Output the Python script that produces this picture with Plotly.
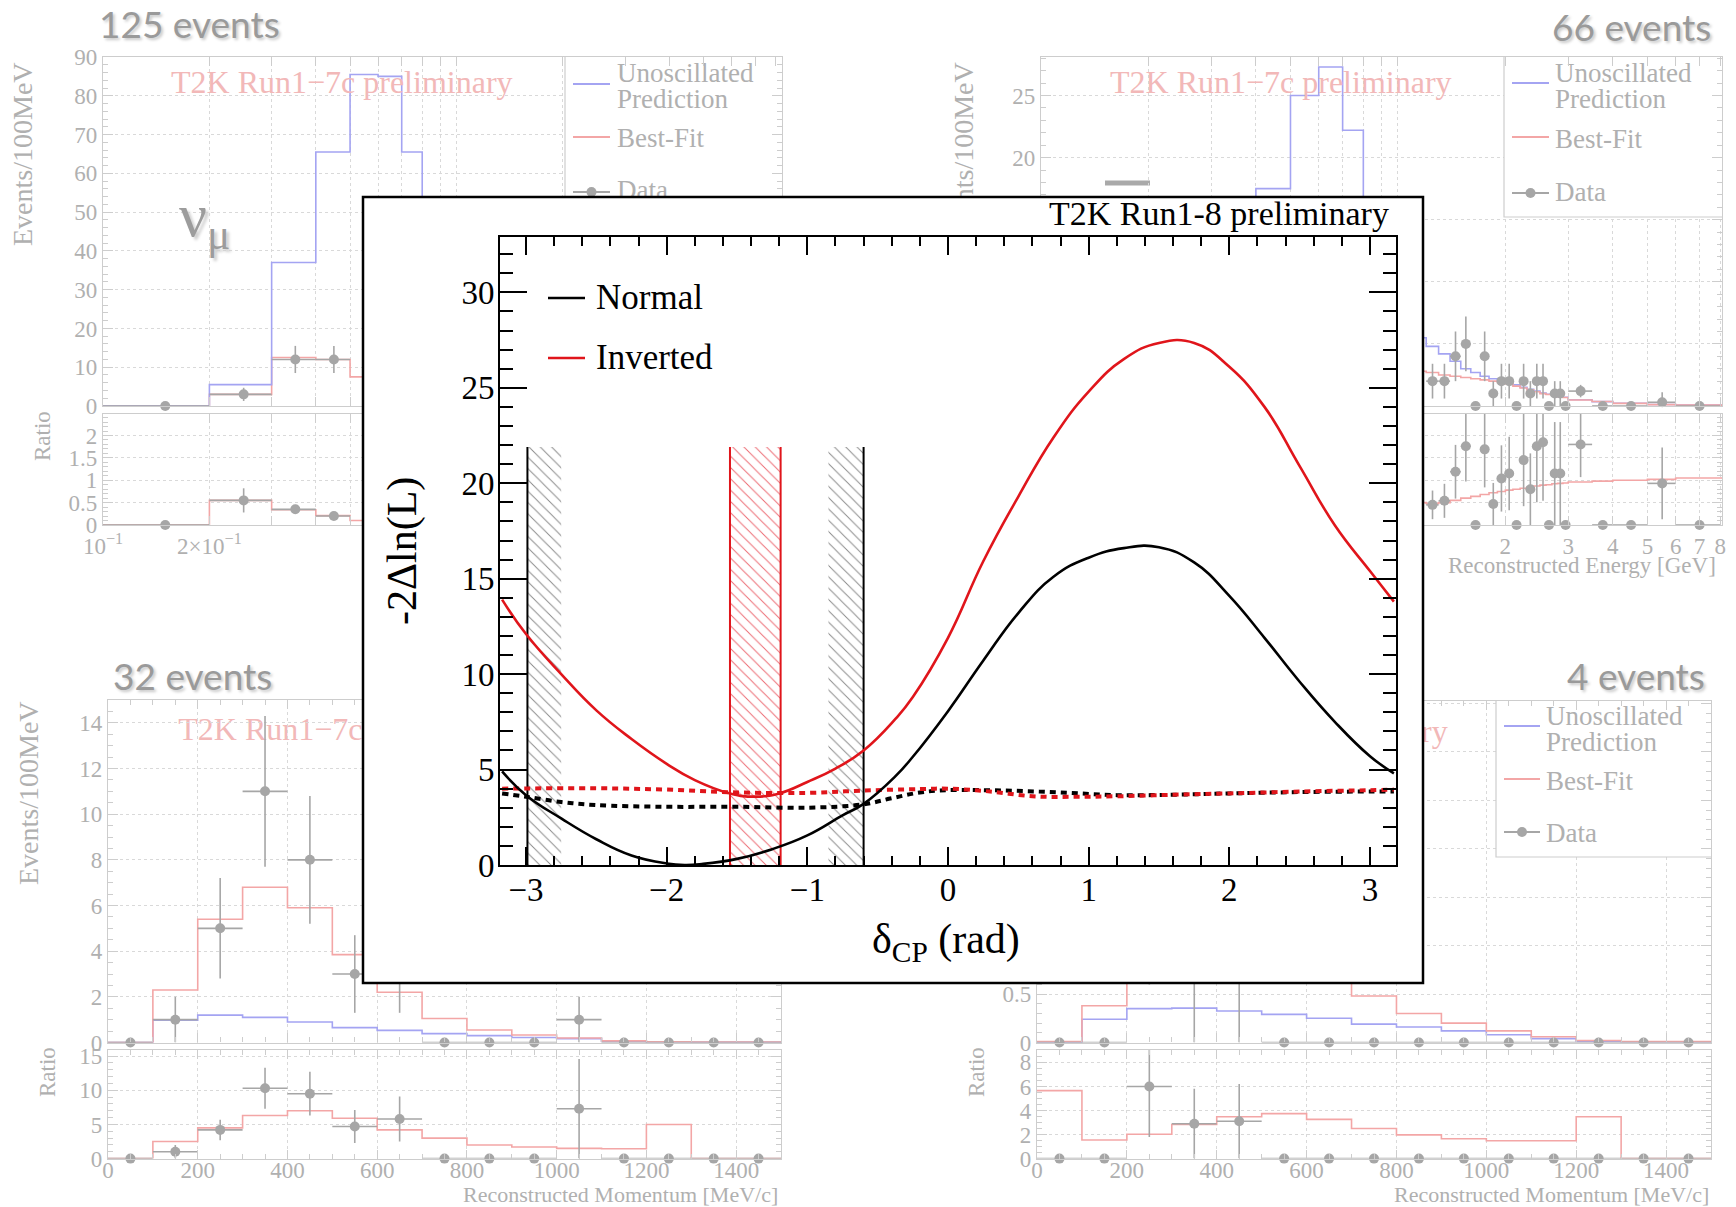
import plotly.graph_objects as go

W, H = 1736, 1207
SERIF = "Liberation Serif"
SANS = "Lato"

GRAY_TXT = "#b0b0b0"
FRAME = "#cdcdcd"
GRID = "#d9d9d9"
BLUE = "#a4a4f2"
PINK = "#f3a6a6"
PINK_TXT = "#f2b8b8"
DATA = "#a6a6a6"
EVT = "#9a9a9a"
RED = "#e0151b"

# ---------------- background panels: data ----------------
# top-left: nu_mu sample (125 events), reconstructed energy [GeV]
tl_edges_blue = [0.1, 0.2, 0.3, 0.4, 0.5, 0.6, 0.7, 0.8, 0.9]
tl_blue = [0, 5.5, 37, 65.5, 85.5, 85, 65.5, 45]
tl_edges_red = [0.1, 0.2, 0.3, 0.4, 0.5, 0.6]
tl_red = [0, 3, 12.5, 12, 7.5]
tl_x = [0.15, 0.25, 0.35, 0.45]
tl_xerr = [0.05, 0.05, 0.05, 0.05]
tl_data = [0, 3, 12, 12]
tl_err = [0, 1.7, 3.5, 3.5]
tl_ratio_red = [0, 0.55, 0.34, 0.21, 0.1]
tl_ratio_data = [0, 0.55, 0.35, 0.2]
tl_ratio_err = [0, 0.27, 0.1, 0.06]

# top-right: anti-nu_mu sample (66 events)
tr_edges = [0.1, 0.2, 0.3, 0.4, 0.5, 0.6, 0.7, 0.8, 0.9, 1.0, 1.1, 1.2, 1.3, 1.4, 1.5,
            1.6, 1.7, 1.8, 1.9, 2.0, 2.1, 2.2, 2.3, 2.4, 2.5, 2.6, 2.7, 2.8, 2.9, 3.0,
            3.5, 4.0, 5.0, 6.0, 8.3]
tr_blue = [0.5, 3.0, 9.0, 17.5, 25.0, 27.3, 22.2, 15.0, 10.0, 7.5,
           5.5, 4.8, 4.2, 3.6, 3.0, 2.7, 2.4, 2.2, 2.0, 1.9,
           1.7, 1.5, 1.35, 1.2, 1.05, 0.95, 0.85, 0.75, 0.7,
           0.5, 0.35, 0.22, 0.12, 0.08]
tr_edges_red = tr_edges[10:]
tr_red = [2.8, 2.7, 2.5, 2.4, 2.3, 2.2, 2.1, 2.0, 1.9, 1.8,
          1.6, 1.45, 1.3, 1.15, 1.0, 0.92, 0.83, 0.74, 0.68,
          0.48, 0.36, 0.21, 0.11, 0.07]
tr_ratio_red = [0.5, 0.48, 0.5, 0.55, 0.6, 0.64, 0.68, 0.72, 0.75, 0.78,
                0.8, 0.82, 0.85, 0.87, 0.89, 0.9, 0.92, 0.93, 0.94,
                0.96, 0.98, 1.0, 1.02, 1.05]
tr_x = [1.25, 1.35, 1.45, 1.55, 1.65, 1.75, 1.85, 1.95, 2.05, 2.15, 2.25, 2.35,
        2.45, 2.55, 2.65, 2.75, 2.85, 2.95, 3.25, 3.75, 4.5, 5.5, 7.0]
tr_xerr = [0.05, 0.05, 0.05, 0.05, 0.05, 0.05, 0.05, 0.05, 0.05, 0.05, 0.05, 0.05,
           0.05, 0.05, 0.05, 0.05, 0.05, 0.05, 0.25, 0.25, 0.5, 0.5, 1.0]
tr_data = [2, 2, 4, 5, 0, 4, 1, 2, 2, 0, 2, 1, 2, 2, 0, 1, 1, 0, 1.2, 0, 0, 0.3, 0]
tr_err = [1.4, 1.4, 2, 2.2, 0, 2, 1, 1.4, 1.4, 0, 1.4, 1, 1.4, 1.4, 0, 1, 1, 0, 0.5, 0, 0, 0.8, 0]
tr_ratio_data = [0.45, 0.54, 1.19, 1.76, 0, 1.69, 0.47, 1.04, 1.15, 0, 1.45, 0.8,
                 1.76, 1.85, 0, 1.15, 1.15, 0, 1.8, 0, 0, 0.93, 0]
tr_ratio_err = [0.32, 0.38, 0.6, 0.79, 0, 0.85, 0.47, 0.74, 0.82, 0, 1.03, 0.8,
                1.25, 1.31, 0, 1.15, 1.15, 0, 0.73, 0, 0, 0.8, 0]

# bottom-left: nu_e sample (32 events), reconstructed momentum [MeV/c]
mom_edges = [0, 100, 200, 300, 400, 500, 600, 700, 800, 900, 1000, 1100, 1200, 1300, 1400, 1500]
mom_x = [50, 150, 250, 350, 450, 550, 650, 750, 850, 950, 1050, 1150, 1250, 1350, 1450]
mom_xerr = [50, 50, 50, 50, 50, 50, 50, 50, 50, 50, 50, 50, 50, 50, 50]
bl_red = [0, 2.3, 5.4, 6.8, 5.9, 3.85, 2.2, 1.05, 0.55, 0.33, 0.2, 0.07, 0.03, 0.02, 0.02]
bl_blue = [0, 0.98, 1.2, 1.1, 0.9, 0.65, 0.53, 0.39, 0.3, 0.22, 0.17, 0.05, 0.02, 0.01, 0.01]
bl_data = [0, 1, 5, 11, 8, 3, 3, 0, 0, 0, 1, 0, 0, 0, 0]
bl_err = [0, 1, 2.2, 3.3, 2.8, 1.7, 1.7, 0, 0, 0, 1, 0, 0, 0, 0]
bl_ratio_red = [0, 2.5, 4.5, 6.3, 7.0, 5.9, 4.2, 3.0, 2.0, 1.7, 1.5, 1.45, 5.0, 0, 0]
bl_ratio_data = [0, 1.0, 4.2, 10.3, 9.5, 4.7, 5.8, 0, 0, 0, 7.3, 0, 0, 0, 0]
bl_ratio_err = [0, 1.0, 1.5, 3.0, 3.2, 2.4, 3.3, 0, 0, 0, 7.3, 0, 0, 0, 0]

# bottom-right: anti-nu_e sample (4 events)
br_red = [0.01, 0.38, 0.74, 1.03, 1.14, 1.1, 0.83, 0.48, 0.3, 0.2, 0.12, 0.06, 0.02, 0.01, 0.01]
br_blue = [0.0, 0.24, 0.35, 0.355, 0.325, 0.29, 0.25, 0.19, 0.16, 0.12, 0.08, 0.04, 0.01, 0.005, 0.005]
br_data = [0, 0, 2, 1, 1, 0, 0, 0, 0, 0, 0, 0, 0, 0, 0]
br_err = [0, 0, 1.4, 1, 1, 0, 0, 0, 0, 0, 0, 0, 0, 0, 0]
br_ratio_red = [5.65, 1.55, 2.03, 2.84, 3.48, 3.74, 3.26, 2.5, 1.97, 1.65, 1.48, 1.48, 3.48, 0, 0]
br_ratio_data = [0, 0, 6.0, 2.9, 3.1, 0, 0, 0, 0, 0, 0, 0, 0, 0, 0]
br_ratio_err = [0, 0, 4.2, 2.9, 3.1, 0, 0, 0, 0, 0, 0, 0, 0, 0, 0]

log_tickvals = [0.1, 0.2, 0.3, 0.4, 0.5, 0.6, 0.7, 0.8, 0.9, 1, 2, 3, 4, 5, 6, 7, 8]
log_ticktext = ["10<sup>−1</sup>", "2×10<sup>−1</sup>", "", "", "", "", "", "", "",
                "1", "2", "3", "4", "5", "6", "7", "8"]

# ---------------- inset: -2 delta ln L vs delta_CP ----------------
dcp_normal = [-3.17, -3.0, -2.75, -2.5, -2.25, -2.0, -1.87, -1.75, -1.5, -1.25, -1.0, -0.75,
              -0.6, -0.38, -0.25, 0.0, 0.25, 0.5, 0.75, 1.0, 1.25, 1.5, 1.75, 2.0, 2.25,
              2.5, 2.75, 3.0, 3.17]
chi_normal = [4.9, 3.66, 2.44, 1.35, 0.5, 0.08, 0.0, 0.05, 0.32, 0.83, 1.55, 2.6,
              3.2, 4.6, 5.67, 8.06, 10.7, 13.2, 15.1, 16.1, 16.6, 16.65, 15.85, 14.1, 11.9,
              9.6, 7.5, 5.7, 4.8]
dcp_inverted = [-3.17, -3.0, -2.75, -2.5, -2.25, -2.0, -1.8, -1.55, -1.37, -1.2, -1.0, -0.8,
                -0.6, -0.38, -0.25, 0.0, 0.25, 0.5, 0.75, 1.0, 1.25, 1.5, 1.75, 2.0,
                2.25, 2.5, 2.75, 3.0, 3.17]
chi_inverted = [13.9, 12.1, 10.0, 8.1, 6.6, 5.3, 4.45, 3.75, 3.58, 3.75, 4.35, 5.05,
                6.0, 7.6, 8.8, 11.9, 15.9, 19.3, 22.4, 24.8, 26.5, 27.35, 27.35, 26.1,
                24.0, 20.9, 17.8, 15.4, 13.8]
dcp_crit_n = [-3.17, -3.0, -2.75, -2.5, -2.0, -1.5, -1.0, -0.6, -0.4, -0.2, 0.0, 0.4, 0.8,
              1.2, 1.6, 2.0, 2.5, 3.0, 3.17]
crit_normal = [3.75, 3.58, 3.3, 3.14, 3.05, 3.05, 3.0, 3.18, 3.5, 3.8, 3.92, 3.9, 3.8,
               3.66, 3.68, 3.75, 3.82, 3.85, 3.85]
dcp_crit_i = [-3.17, -2.5, -2.0, -1.5, -1.0, -0.6, -0.2, 0.0, 0.3, 0.6, 0.9, 1.2, 1.6,
              2.0, 2.5, 3.0, 3.17]
crit_inverted = [4.0, 4.02, 3.95, 3.8, 3.78, 3.9, 3.98, 4.0, 3.85, 3.6, 3.57, 3.6, 3.68,
                 3.75, 3.85, 3.92, 3.95]
normal_interval = [-2.99, -0.60]
normal_hatch = [[-2.99, -2.75], [-0.85, -0.60]]
inverted_interval = [-1.55, -1.19]
interval_top = 21.9


def P(x):
    return x / W


def Q(y):
    return 1 - y / H


PANELS = {
    1: dict(x=(103, 782), y=(57, 406), xr=(-1, 0.921), yr=(0, 90), log=True, dt=10, mdt=2),
    2: dict(x=(103, 782), y=(414, 525), xr=(-1, 0.921), yr=(0, 2.48), log=True, dt=0.5, mdt=0.1),
    3: dict(x=(1041, 1722), y=(57, 406), xr=(-1, 0.908), yr=(0, 28.1), log=True, dt=5, mdt=1),
    4: dict(x=(1041, 1722), y=(414, 525), xr=(-1, 0.908), yr=(0, 2.48), log=True, dt=0.5, mdt=0.1),
    5: dict(x=(108, 781), y=(700, 1042.5), xr=(0, 1500), yr=(0, 15), log=False, dt=2, mdt=0.5),
    6: dict(x=(108, 781), y=(1050, 1158.6), xr=(0, 1500), yr=(0, 15.9), log=False, dt=5, mdt=1),
    7: dict(x=(1037, 1711), y=(700.6, 1042.5), xr=(0, 1500), yr=(0, 3.53), log=False, dt=0.5, mdt=0.1),
    8: dict(x=(1037, 1711), y=(1050, 1158.6), xr=(0, 1500), yr=(0, 9.03), log=False, dt=2, mdt=0.5),
}


def ax_ids(n):
    return ("x" if n == 1 else f"x{n}", "y" if n == 1 else f"y{n}")


def to_data(n, px, py):
    p = PANELS[n]
    fx = (px - p["x"][0]) / (p["x"][1] - p["x"][0])
    xv = p["xr"][0] + fx * (p["xr"][1] - p["xr"][0])
    if p["log"]:
        xv = 10 ** xv
    fy = (p["y"][1] - py) / (p["y"][1] - p["y"][0])
    yv = p["yr"][0] + fy * (p["yr"][1] - p["yr"][0])
    return xv, yv


fig = go.Figure()
layout = {}
anns = []
shapes = []

# ---- axes for background panels ----
for n, p in PANELS.items():
    xk = "xaxis" if n == 1 else f"xaxis{n}"
    yk = "yaxis" if n == 1 else f"yaxis{n}"
    xa, ya = ax_ids(n)
    tf = dict(family=SERIF, size=23, color=GRAY_TXT)
    xd = dict(domain=[P(p["x"][0]), P(p["x"][1])], range=list(p["xr"]), anchor=ya,
              showline=True, linecolor=FRAME, linewidth=1.2, mirror="ticks",
              ticks="inside", ticklen=9, tickcolor=FRAME, tickwidth=1,
              showgrid=True, gridcolor=GRID, griddash="dot", gridwidth=1,
              zeroline=False, showticklabels=(n % 2 == 0), tickfont=tf, fixedrange=True)
    if p["log"]:
        xd.update(type="log", tickmode="array", tickvals=log_tickvals, ticktext=log_ticktext)
    else:
        xd.update(type="linear", tick0=0, dtick=200, ticklabelstandoff=-9,
                  minor=dict(ticks="inside", ticklen=5, tickcolor=FRAME, dtick=50, showgrid=False))
    yd = dict(domain=[Q(p["y"][1]), Q(p["y"][0])], range=list(p["yr"]), anchor=xa,
              showline=True, linecolor=FRAME, linewidth=1.2, mirror="ticks",
              ticks="inside", ticklen=10, tickcolor=FRAME, tickwidth=1,
              showgrid=True, gridcolor=GRID, griddash="dot", gridwidth=1,
              zeroline=False, tick0=0, dtick=p["dt"], tickfont=tf, fixedrange=True,
              minor=dict(ticks="inside", ticklen=5, tickcolor=FRAME, dtick=p["mdt"], showgrid=False))
    layout[xk] = xd
    layout[yk] = yd


def step(edges, vals, color, n, width=1.6):
    xa, ya = ax_ids(n)
    fig.add_trace(go.Scatter(x=list(edges), y=list(vals) + [vals[-1]], mode="lines",
                             line=dict(color=color, width=width, shape="hv"),
                             xaxis=xa, yaxis=ya, hoverinfo="skip"))


def points(x, y, err, xerr, n):
    xa, ya = ax_ids(n)
    fig.add_trace(go.Scatter(x=x, y=y, mode="markers", marker=dict(size=1, color="rgba(0,0,0,0)"),
                             error_y=dict(type="data", array=err, arrayminus=err, color=DATA,
                                          thickness=1.6, width=0),
                             error_x=dict(type="data", array=xerr, arrayminus=xerr, color=DATA,
                                          thickness=1.6, width=0),
                             xaxis=xa, yaxis=ya, hoverinfo="skip", cliponaxis=True))
    fig.add_trace(go.Scatter(x=x, y=y, mode="markers", marker=dict(size=10, color=DATA),
                             xaxis=xa, yaxis=ya, hoverinfo="skip", cliponaxis=False))


def legend(n, box, lx, rows_y, text_x, texts):
    xa, ya = ax_ids(n)
    x0, y0, x1, y1 = box
    cx, cy = zip(*[to_data(n, a, b) for a, b in [(x0, y0), (x1, y0), (x1, y1), (x0, y1), (x0, y0)]])
    fig.add_trace(go.Scatter(x=cx, y=cy, mode="lines", fill="toself", fillcolor="white",
                             line=dict(width=0), xaxis=xa, yaxis=ya, hoverinfo="skip"))
    bx, by = zip(*[to_data(n, a, b) for a, b in [(x0, y0), (x0, y1), (x1, y1)]])
    fig.add_trace(go.Scatter(x=bx, y=by, mode="lines", line=dict(color=FRAME, width=1.2),
                             xaxis=xa, yaxis=ya, hoverinfo="skip"))
    for (yy, col) in zip(rows_y, [BLUE, PINK, DATA]):
        sx, sy = zip(*[to_data(n, lx[0], yy), to_data(n, lx[1], yy)])
        fig.add_trace(go.Scatter(x=sx, y=sy, mode="lines", line=dict(color=col, width=2),
                                 xaxis=xa, yaxis=ya, hoverinfo="skip"))
    mx, my = to_data(n, (lx[0] + lx[1]) / 2, rows_y[2])
    fig.add_trace(go.Scatter(x=[mx], y=[my], mode="markers", marker=dict(size=10, color=DATA),
                             xaxis=xa, yaxis=ya, hoverinfo="skip"))
    tx, ty = zip(*[to_data(n, text_x, yy) for (_, yy) in texts])
    fig.add_trace(go.Scatter(x=tx, y=ty, mode="text", text=[t for (t, _) in texts],
                             textposition="middle right",
                             textfont=dict(family=SERIF, size=27, color=GRAY_TXT),
                             xaxis=xa, yaxis=ya, hoverinfo="skip"))


# top-left
step(tl_edges_red, tl_red, PINK, 1)
step(tl_edges_blue, tl_blue, BLUE, 1)
points(tl_x, tl_data, tl_err, tl_xerr, 1)
legend(1, (565, 57, 782, 217), (573, 610), [84, 137, 192], 617,
       [("Unoscillated", 75), ("Prediction", 101), ("Best-Fit", 140), ("Data", 192)])
step(tl_edges_red, tl_ratio_red, PINK, 2)
points(tl_x, tl_ratio_data, tl_ratio_err, tl_xerr, 2)

# top-right
step(tr_edges, tr_blue, BLUE, 3)
step(tr_edges_red, tr_red, PINK, 3)
points(tr_x, tr_data, tr_err, tr_xerr, 3)
legend(3, (1504, 57, 1722, 217), (1512, 1549), [83, 137, 193], 1555,
       [("Unoscillated", 75), ("Prediction", 101), ("Best-Fit", 141), ("Data", 194)])
step(tr_edges_red, tr_ratio_red, PINK, 4)
points(tr_x, tr_ratio_data, tr_ratio_err, tr_xerr, 4)

# bottom-left
step(mom_edges, bl_blue, BLUE, 5)
step(mom_edges, bl_red, PINK, 5)
points(mom_x, bl_data, bl_err, mom_xerr, 5)
step(mom_edges, bl_ratio_red, PINK, 6)
points(mom_x, bl_ratio_data, bl_ratio_err, mom_xerr, 6)

# bottom-right
step(mom_edges, br_blue, BLUE, 7)
step(mom_edges, br_red, PINK, 7)
points(mom_x, br_data, br_err, mom_xerr, 7)
legend(7, (1496, 700.6, 1711, 857), (1504, 1540), [726, 779, 832], 1546,
       [("Unoscillated", 718), ("Prediction", 744), ("Best-Fit", 783), ("Data", 835)])
step(mom_edges, br_ratio_red, PINK, 8)
points(mom_x, br_ratio_data, br_ratio_err, mom_xerr, 8)

# ---- cover subplot (white panel under the inset) ----
layout["xaxis9"] = dict(domain=[P(363), P(1423)], range=[0, 1], visible=False, anchor="y9", fixedrange=True)
layout["yaxis9"] = dict(domain=[Q(983), Q(197)], range=[0, 1], visible=False, anchor="x9", fixedrange=True)
fig.add_trace(go.Scatter(x=[0, 1, 1, 0, 0], y=[0, 0, 1, 1, 0], mode="lines", fill="toself",
                         fillcolor="white", line=dict(width=0, color="white"),
                         xaxis="x9", yaxis="y9", hoverinfo="skip"))

# ---- inset subplot ----
IX, IY = "x10", "y10"
layout["xaxis10"] = dict(domain=[P(500), P(1396)], range=[-3.185, 3.185], anchor="y10",
                         showline=True, linecolor="black", linewidth=2, mirror="ticks",
                         ticks="inside", ticklen=18, tickwidth=2, tickcolor="black",
                         tick0=0, dtick=1, showgrid=False, zeroline=False, ticklabelstandoff=-6,
                         minor=dict(ticks="inside", ticklen=9, tickwidth=1.5, tickcolor="black",
                                    dtick=0.2, showgrid=False),
                         tickfont=dict(family=SERIF, size=33, color="black"), fixedrange=True)
layout["yaxis10"] = dict(domain=[Q(865), Q(237)], range=[0, 32.9], anchor="x10",
                         showline=True, linecolor="black", linewidth=2, mirror="ticks",
                         ticks="inside", ticklen=27, tickwidth=2, tickcolor="black",
                         tick0=0, dtick=5, showgrid=False, zeroline=False, ticklabelstandoff=-3,
                         minor=dict(ticks="inside", ticklen=13, tickwidth=1.5, tickcolor="black",
                                    dtick=1, showgrid=False),
                         tickfont=dict(family=SERIF, size=33, color="black"), fixedrange=True)


def band(x0, x1, color):
    fig.add_trace(go.Scatter(x=[x0, x1, x1, x0, x0], y=[0, 0, interval_top, interval_top, 0],
                             mode="lines", line=dict(width=0), fill="toself",
                             fillcolor="rgba(255,255,255,0)",
                             fillpattern=dict(shape="\\", fgcolor=color, bgcolor="rgba(0,0,0,0)",
                                              size=8, solidity=0.12),
                             xaxis=IX, yaxis=IY, hoverinfo="skip"))


for hb in normal_hatch:
    band(hb[0], hb[1], "#8a8a8a")
band(inverted_interval[0], inverted_interval[1], "#ec6a72")

for xv in normal_interval:
    fig.add_trace(go.Scatter(x=[xv, xv], y=[0, interval_top], mode="lines",
                             line=dict(color="black", width=2), xaxis=IX, yaxis=IY, hoverinfo="skip"))
for xv in inverted_interval:
    fig.add_trace(go.Scatter(x=[xv, xv], y=[0, interval_top], mode="lines",
                             line=dict(color=RED, width=2), xaxis=IX, yaxis=IY, hoverinfo="skip"))

fig.add_trace(go.Scatter(x=dcp_crit_n, y=crit_normal, mode="lines",
                         line=dict(color="black", width=4, dash="6px,5px", shape="spline", smoothing=1.0),
                         xaxis=IX, yaxis=IY, hoverinfo="skip"))
fig.add_trace(go.Scatter(x=dcp_crit_i, y=crit_inverted, mode="lines",
                         line=dict(color=RED, width=4, dash="6px,5px", shape="spline", smoothing=1.0),
                         xaxis=IX, yaxis=IY, hoverinfo="skip"))
fig.add_trace(go.Scatter(x=dcp_normal, y=chi_normal, mode="lines", name="Normal",
                         line=dict(color="black", width=2.6, shape="spline", smoothing=1.3),
                         xaxis=IX, yaxis=IY, hoverinfo="skip"))
fig.add_trace(go.Scatter(x=dcp_inverted, y=chi_inverted, mode="lines", name="Inverted",
                         line=dict(color=RED, width=2.6, shape="spline", smoothing=1.3),
                         xaxis=IX, yaxis=IY, hoverinfo="skip"))


# ---- texts ----
def add_ann(text, x, y, size, color, xanchor="center", yanchor="middle", angle=0,
            family=SERIF, shadow=None):
    f = dict(family=family, size=size, color=color)
    if shadow:
        f["shadow"] = shadow
    anns.append(dict(text=text, x=P(x), y=Q(y), xref="paper", yref="paper",
                     xanchor=xanchor, yanchor=yanchor, showarrow=False, textangle=angle, font=f))


def add_hidden_text(text, x, y, size, color, pos="middle center", angle=0):
    shapes.append(dict(type="rect", xref="paper", yref="paper",
                       x0=P(x - 1), x1=P(x + 1), y0=Q(y + 1), y1=Q(y - 1),
                       line=dict(width=0), fillcolor="rgba(0,0,0,0)", layer="below",
                       label=dict(text=text, textposition=pos, textangle=angle, padding=0,
                                  font=dict(family=SERIF, size=size, color=color))))


SH = "2px 2px 3px #c8c8c8"
add_ann("125 events", 97, 23, 37, EVT, xanchor="left", family=SANS, shadow=SH)
add_ann("66 events", 1713, 26, 37, EVT, xanchor="right", family=SANS, shadow=SH)
add_ann("32 events", 111, 675, 37, EVT, xanchor="left", family=SANS, shadow=SH)
add_ann("4 events", 1707, 675, 37, EVT, xanchor="right", family=SANS, shadow=SH)
add_ann("ν<sub>μ</sub>", 204, 220, 62, "#9c9c9c", shadow="3px 3px 3px #d0d0d0")

add_ann("T2K Run1−7c preliminary", 342, 82, 32, PINK_TXT)
add_ann("T2K Run1−7c preliminary", 1281, 82, 32, PINK_TXT)
add_hidden_text("T2K Run1−7c preliminary", 349, 726, 32, PINK_TXT)
add_hidden_text("T2K Run1−7c preliminary", 1277, 728, 32, PINK_TXT)

add_ann("Events/100MeV", 23, 154, 28, GRAY_TXT, angle=-90)
add_ann("Ratio", 42, 436, 23, GRAY_TXT, angle=-90)
add_hidden_text("Events/100MeV", 960, 154, 28, GRAY_TXT, angle=-90)
add_hidden_text("Ratio", 981, 450, 23, GRAY_TXT, angle=-90)
add_ann("Events/100MeV", 28, 793, 28, GRAY_TXT, angle=-90)
add_ann("Ratio", 47, 1072, 23, GRAY_TXT, angle=-90)
add_hidden_text("Events/100MeV", 958, 793, 28, GRAY_TXT, angle=-90)
add_ann("Ratio", 976, 1072, 23, GRAY_TXT, angle=-90)

add_hidden_text("Reconstructed Energy [GeV]", 782, 563, 23, GRAY_TXT, pos="middle right")
add_ann("Reconstructed Energy [GeV]", 1718, 565, 23, GRAY_TXT, xanchor="right")
add_ann("Reconstructed Momentum [MeV/c]", 780, 1194, 22, GRAY_TXT, xanchor="right")
add_ann("Reconstructed Momentum [MeV/c]", 1711, 1194, 22, GRAY_TXT, xanchor="right")

# stray grey mark in top-right panel
shapes.append(dict(type="line", xref="paper", yref="paper", x0=P(1105), x1=P(1150),
                   y0=Q(183), y1=Q(183), line=dict(color="#a9a9a9", width=5), layer="below"))

# inset texts
add_ann("T2K Run1-8 preliminary", 1391, 213, 34, "black", xanchor="right")
add_ann("Normal", 594, 297, 35, "black", xanchor="left")
add_ann("Inverted", 594, 357, 35, "black", xanchor="left")
add_ann("-2Δln(L)", 402, 551, 42, "black", angle=-90)
add_ann("δ<sub>CP</sub> (rad)", 946, 942, 42, "black")
shapes.append(dict(type="line", xref="paper", yref="paper", x0=P(548), x1=P(585),
                   y0=Q(298), y1=Q(298), line=dict(color="black", width=2.6), layer="above"))
shapes.append(dict(type="line", xref="paper", yref="paper", x0=P(548), x1=P(585),
                   y0=Q(358), y1=Q(358), line=dict(color=RED, width=2.6), layer="above"))
# inset frame
shapes.append(dict(type="rect", xref="paper", yref="paper", x0=P(363), x1=P(1423),
                   y0=Q(983), y1=Q(197), line=dict(color="black", width=2.5),
                   fillcolor="rgba(0,0,0,0)", layer="above"))

layout.update(dict(width=W, height=H, margin=dict(l=0, r=0, t=0, b=0),
                   paper_bgcolor="white", plot_bgcolor="white", template="none",
                   showlegend=False, hovermode=False, annotations=anns, shapes=shapes))
fig.update_layout(**layout)

fig.write_html("out.html", config={"displayModeBar": False},
               post_script="document.body.style.margin='0';document.body.style.overflow='hidden';")
